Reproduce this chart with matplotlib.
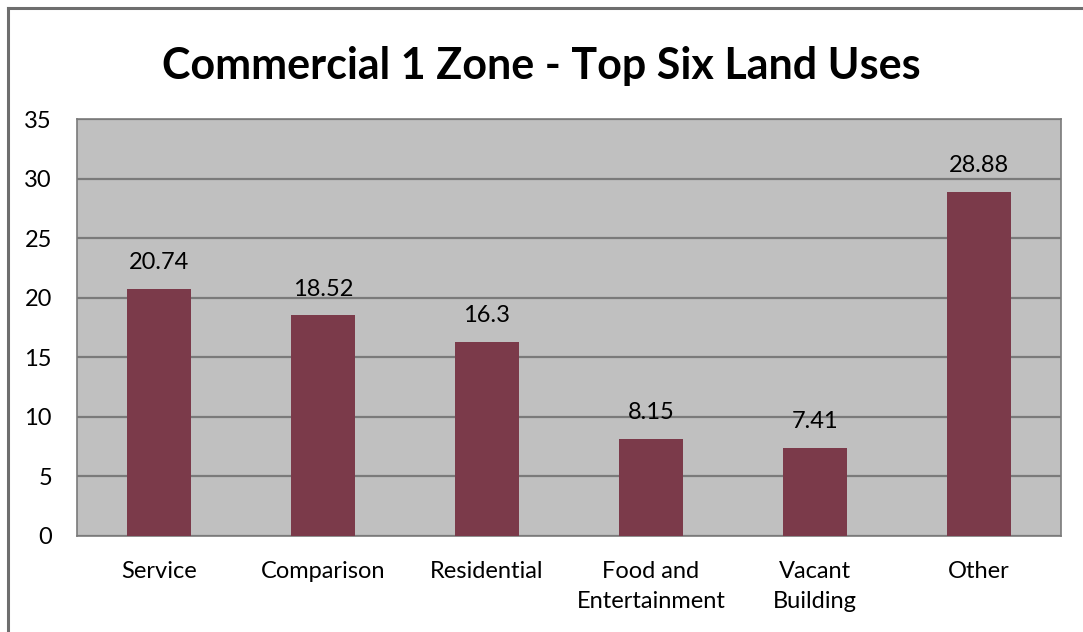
import matplotlib.pyplot as plt
import numpy as np

# Chart data
categories = ['Service', 'Comparison', 'Residential', 'Food and\nEntertainment', 'Vacant\nBuilding', 'Other']
shares = [20.74, 18.52, 16.3, 8.15, 7.41, 28.88]
share_labels = ['20.74', '18.52', '16.3', '8.15', '7.41', '28.88']
y_ticks = [0, 5, 10, 15, 20, 25, 30, 35]

plt.rcParams['font.family'] = ['Lato', 'DejaVu Sans']

fig = plt.figure(figsize=(10.83, 6.32), dpi=100)
ax = fig.add_axes([77 / 1083, 1 - 536 / 632, (1061 - 77) / 1083, (536 - 119) / 632])

# Outer chart frame (only left and top visible in the reference)
fig.add_artist(plt.Line2D([7.5 / 1083, 7.5 / 1083], [0, 1 - 7.5 / 632], transform=fig.transFigure,
                          color='#6e6e6e', lw=2.2))
fig.add_artist(plt.Line2D([7.5 / 1083, 1], [1 - 7.5 / 632, 1 - 7.5 / 632], transform=fig.transFigure,
                          color='#6e6e6e', lw=2.2))

x = np.arange(len(categories))
ax.set_facecolor('#c0c0c0')
ax.bar(x, shares, width=0.39, color='#7b3a4a', zorder=3)
for xi, v, lab in zip(x, shares, share_labels):
    ax.text(xi, v + 2.2, lab, ha='center', va='center', fontsize=17, color='black')

ax.set_xlim(-0.5, len(categories) - 0.5)
ax.set_ylim(0, 35)
ax.set_yticks(y_ticks)
ax.set_yticklabels([str(t) for t in y_ticks], fontsize=17)
ax.set_xticks(x)
ax.set_xticklabels(categories, fontsize=17, linespacing=1.55)
ax.yaxis.grid(True, color='#7a7a7a', lw=1.6, zorder=1)
ax.tick_params(length=0)
ax.tick_params(axis='y', pad=18)
ax.tick_params(axis='x', pad=18)
for s in ax.spines.values():
    s.set_color('#7a7a7a')
    s.set_linewidth(1.2)

fig.text(0.5, 1 - 66 / 632, 'Commercial 1 Zone - Top Six Land Uses', ha='center', va='center',
         fontsize=31, fontweight='bold')

fig.savefig('out.png', dpi=100, facecolor='white')
